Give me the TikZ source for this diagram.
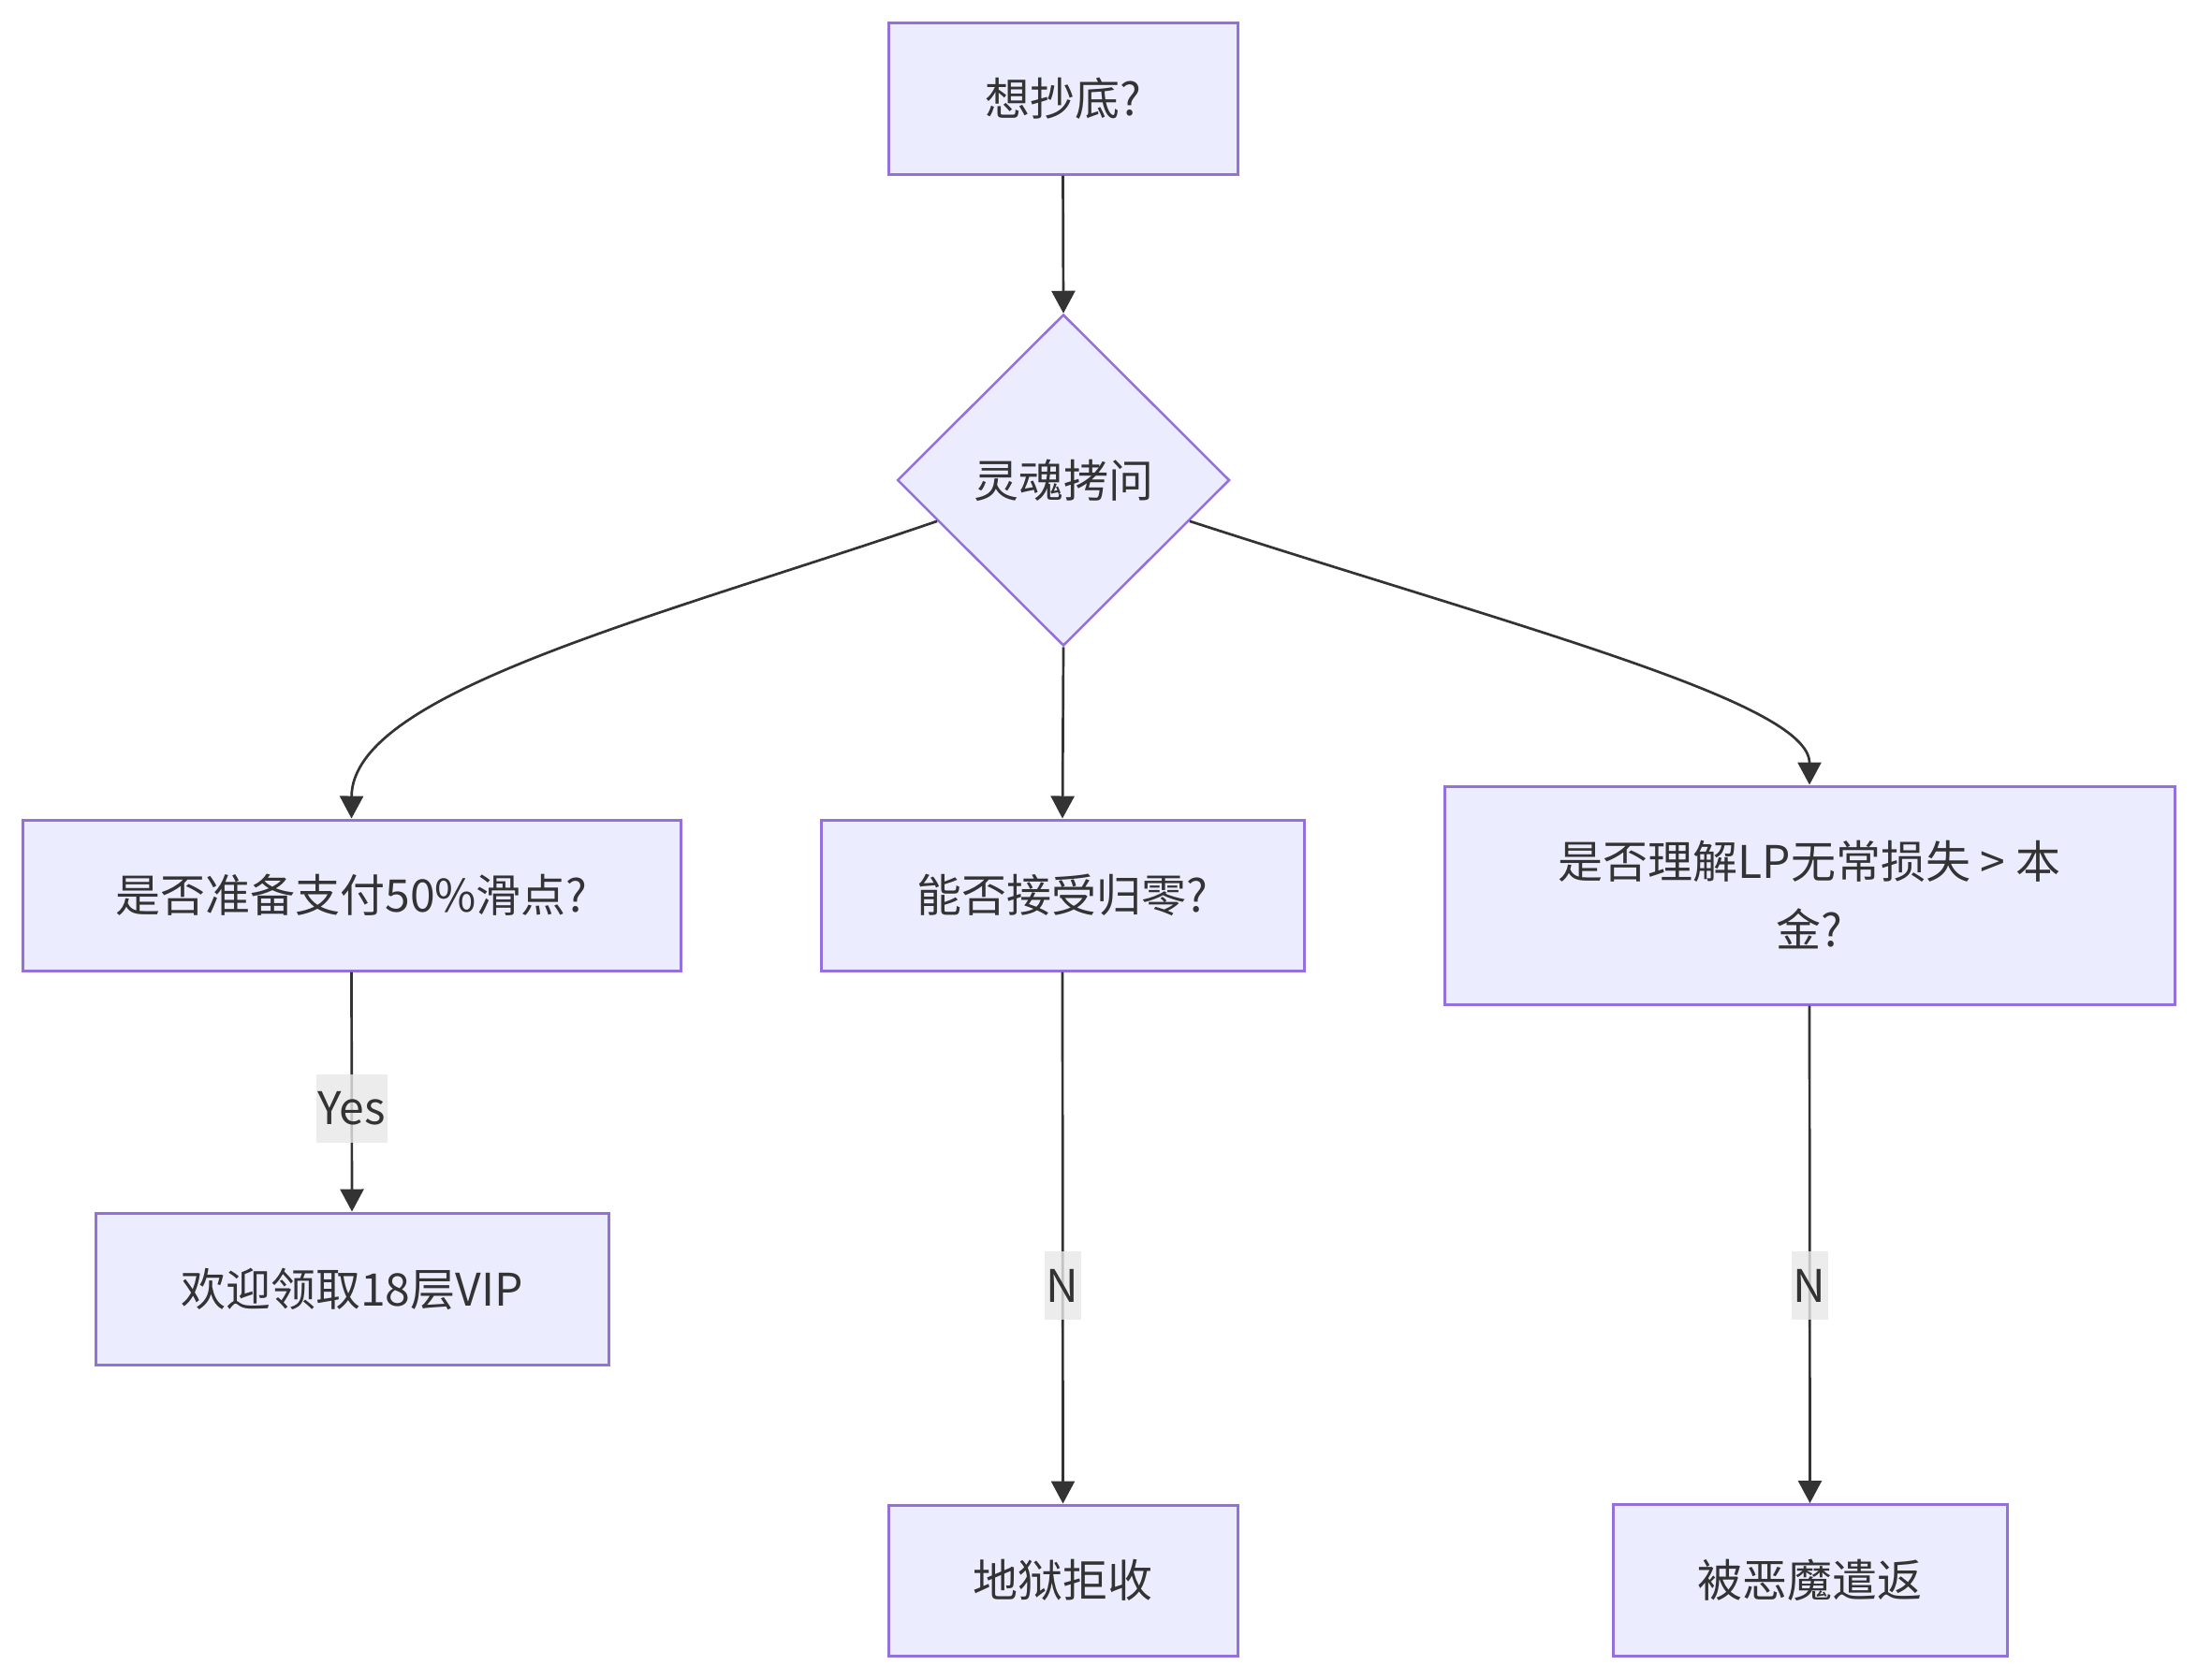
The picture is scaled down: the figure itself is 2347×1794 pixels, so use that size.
\documentclass[tikz,border=0pt]{standalone}
\usepackage{fontspec}
\setmainfont{Noto Sans CJK SC}
\usetikzlibrary{shapes.geometric,arrows.meta}
\definecolor{boxfill}{HTML}{ECECFF}
\definecolor{boxdraw}{HTML}{9370DB}
\definecolor{linec}{HTML}{333333}
\definecolor{labelbg}{HTML}{E8E8E8}
\begin{document}
\begin{tikzpicture}[x=1pt,y=-1pt,
  every node/.style={font=\fontsize{48}{73}\selectfont, text=linec},
  proc/.style={rectangle, draw=boxdraw, fill=boxfill, line width=3pt, inner sep=0pt, align=center},
  dec/.style={diamond, draw=boxdraw, fill=boxfill, line width=2.5pt, inner sep=0pt, minimum width=355pt, minimum height=354pt},
  conn/.style={draw=linec, line width=2.7pt, -{Triangle[length=24pt,width=25pt]}},
  elabel/.style={fill=labelbg, fill opacity=0.8, text opacity=1, inner sep=0pt, inner xsep=2pt, minimum height=73pt}
]
\fill[white] (0,0) rectangle (2347,1794);
\useasboundingbox (0,0) rectangle (2347,1794);

\node[proc, minimum width=373pt, minimum height=162pt] (n1) at (1135.5,105) {想抄底?};
\node[dec] (d) at (1136,513) {灵魂拷问};
\node[proc, minimum width=703pt, minimum height=161pt] (n2) at (375.5,956.5) {是否准备支付50\%滑点?};
\node[proc, minimum width=516pt, minimum height=161pt] (n3) at (1135,956.5) {能否接受归零?};
\node[proc, minimum width=780pt, minimum height=233pt] (n4) at (1933,956.5) {是否理解LP无常损失 > 本\\金?};
\node[proc, minimum width=548pt, minimum height=162pt] (n5) at (376,1377) {欢迎领取18层VIP};
\node[proc, minimum width=373pt, minimum height=161pt] (n6) at (1135.5,1688.5) {地狱拒收};
\node[proc, minimum width=421pt, minimum height=162pt] (n7) at (1933.5,1688.5) {被恶魔遣返};

\draw[conn] (n1.south) -- (d.north);
\draw[conn] (d.198.7) .. controls (700,660) and (376,740) .. (n2.north);
\draw[conn] (d.south) -- (n3.north);
\draw[conn] (d.342.1) .. controls (1620,670) and (1933,750) .. (n4.north);
\draw[conn] (n2.south) -- (n5.north) node[elabel, pos=0.57] {Yes};
\draw[conn] (n3.south) -- (n6.north) node[elabel, pos=0.59] {N};
\draw[conn] (n4.south) -- (n7.north) node[elabel, pos=0.5626] {N};
\end{tikzpicture}
\end{document}
